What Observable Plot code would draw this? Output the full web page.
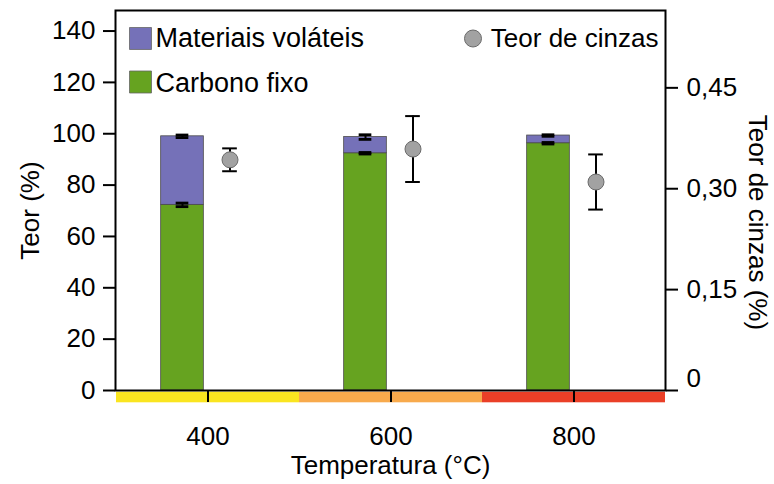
<!DOCTYPE html>
<html><head><meta charset="utf-8">
<script src="https://cdn.jsdelivr.net/npm/d3@7"></script>
<script src="https://cdn.jsdelivr.net/npm/@observablehq/plot@0.6"></script>
<style>
html,body{margin:0;padding:0;background:#fff;}
#chart svg{display:block;}
</style></head><body><div id="chart"></div>
<script>
const temperaturas = ["400", "600", "800"];
const carbonoFixo = [72.3, 92.4, 96.3];
const carbonoErro = [0.7, 0.3, 0.3];
const materiaisVolateis = [26.7, 6.3, 3.0];
const totalErro = [0.5, 0.9, 0.3];
const teorCinzas = [0.343, 0.359, 0.310];
const cinzasErro = [0.017, 0.049, 0.041];
const leftTicks = [0, 20, 40, 60, 80, 100, 120, 140];
const rightTicks = [0, 0.15, 0.30, 0.45];
const stripColors = ["#FAE520", "#F8AA4C", "#EA3F27"];
const seriesColors = ["#7571B8", "#66A320"];
const legendLabels = ["Materiais voláteis", "Carbono fixo", "Teor de cinzas"];
const yMax = 148;
const rightMax = 0.565;
const k = yMax / rightMax;

const stackRows = [];
temperaturas.forEach((t, i) => {
  stackRows.push({t, serie: "Carbono fixo", v: carbonoFixo[i]});
  stackRows.push({t, serie: "Materiais voláteis", v: materiaisVolateis[i]});
});
const rows = temperaturas.map((t, i) => ({
  t, c: carbonoFixo[i], ce: carbonoErro[i],
  tot: carbonoFixo[i] + materiaisVolateis[i], te: totalErro[i],
  a: teorCinzas[i] * k, ae: cinzasErro[i] * k
}));

const fmt = v => v === 0 ? "" : (v / k).toFixed(2).replace(".", ",");
const band = 550 / 3;
const barW = 43, barDx = -25.5, ashDx = 22;
const barInset = (band - barW) / 2;
const capB = (band - 13) / 2, capA = (band - 15) / 2;

const plot = Plot.plot({
  width: 774, height: 484,
  marginTop: 10, marginRight: 109, marginBottom: 94, marginLeft: 115,
  style: {fontFamily: "'Liberation Sans', Arial, sans-serif", fontSize: "26px", color: "#000", background: "#fff"},
  x: {type: "band", domain: temperaturas, padding: 0},
  y: {domain: [0, yMax]},
  color: {domain: ["Materiais voláteis", "Carbono fixo"], range: seriesColors},
  marks: [
    ...stripColors.map((c, i) => Plot.barY([temperaturas[i]], {x: d => d, y1: 0, y2: 0, fill: c, insetTop: 1.7, insetBottom: -12.3})),
    Plot.barY(stackRows, {x: "t", y: "v", fill: "serie", stroke: "#4a4a4a", strokeWidth: 0.8, insetLeft: barInset, insetRight: barInset, dx: barDx}),
    // error bars on stacked bars
    Plot.ruleX(rows, {x: "t", y1: d => d.c - d.ce, y2: d => d.c + d.ce, dx: barDx, strokeWidth: 2}),
    Plot.tickY(rows, {x: "t", y: d => d.c - d.ce, insetLeft: capB, insetRight: capB, dx: barDx, strokeWidth: 2.8}),
    Plot.tickY(rows, {x: "t", y: d => d.c + d.ce, insetLeft: capB, insetRight: capB, dx: barDx, strokeWidth: 2.8}),
    Plot.ruleX(rows, {x: "t", y1: d => d.tot - d.te, y2: d => d.tot + d.te, dx: barDx, strokeWidth: 2}),
    Plot.tickY(rows, {x: "t", y: d => d.tot - d.te, insetLeft: capB, insetRight: capB, dx: barDx, strokeWidth: 2.8}),
    Plot.tickY(rows, {x: "t", y: d => d.tot + d.te, insetLeft: capB, insetRight: capB, dx: barDx, strokeWidth: 2.8}),
    // ash content
    Plot.ruleX(rows, {x: "t", y1: d => d.a - d.ae, y2: d => d.a + d.ae, dx: ashDx, strokeWidth: 2}),
    Plot.tickY(rows, {x: "t", y: d => d.a - d.ae, insetLeft: capA, insetRight: capA, dx: ashDx, strokeWidth: 2}),
    Plot.tickY(rows, {x: "t", y: d => d.a + d.ae, insetLeft: capA, insetRight: capA, dx: ashDx, strokeWidth: 2}),
    Plot.dot(rows, {x: "t", y: "a", r: 8, fill: "#A2A2A2", stroke: "#6A6A6A", strokeWidth: 1, dx: ashDx}),
    // axes
    Plot.frame({strokeWidth: 2}),
    Plot.axisY({anchor: "left", ticks: leftTicks, tickSize: 12, tickPadding: 8, strokeWidth: 2, label: null}),
    Plot.axisY({anchor: "right", ticks: rightTicks.map(v => v * k), tickFormat: fmt, tickSize: 12, tickPadding: 9, strokeWidth: 2, label: null}),
    Plot.axisY({anchor: "right", ticks: [0], tickFormat: () => "0", tickSize: 0, tickPadding: 21, dy: -12, label: null}),
    Plot.axisX({anchor: "bottom", tickSize: 12, tickPadding: 24, strokeWidth: 2, label: null}),
    // axis titles
    Plot.text(["Temperatura (°C)"], {frameAnchor: "bottom", text: d => d, dy: 75, lineAnchor: "middle", textAnchor: "middle"}),
    Plot.text(["Teor (%)"], {frameAnchor: "left", text: d => d, rotate: -90, dx: -85, dy: 10, lineAnchor: "middle", textAnchor: "middle"}),
    Plot.text(["Teor de cinzas (%)"], {frameAnchor: "right", text: d => d, rotate: 90, dx: 92, dy: 22, lineAnchor: "middle", textAnchor: "middle"}),
    // legend
    Plot.dot([legendLabels[0]], {frameAnchor: "top-left", dx: 25, dy: 28, symbol: "square", r: 12.4, fill: seriesColors[0], stroke: "#666", strokeWidth: 0.8}),
    Plot.text([legendLabels[0]], {frameAnchor: "top-left", dx: 40, dy: 28, text: d => d, textAnchor: "start", lineAnchor: "middle", fontSize: 27}),
    Plot.dot([legendLabels[1]], {frameAnchor: "top-left", dx: 25, dy: 71.5, symbol: "square", r: 12.4, fill: seriesColors[1], stroke: "#666", strokeWidth: 0.8}),
    Plot.text([legendLabels[1]], {frameAnchor: "top-left", dx: 40, dy: 73, text: d => d, textAnchor: "start", lineAnchor: "middle", fontSize: 27}),
    Plot.dot([legendLabels[2]], {frameAnchor: "top-right", dx: -192.5, dy: 28, r: 8.5, fill: "#A2A2A2", stroke: "#6A6A6A", strokeWidth: 1}),
    Plot.text([legendLabels[2]], {frameAnchor: "top-right", dx: -7, dy: 28, text: d => d, textAnchor: "end", lineAnchor: "middle"})
  ]
});
document.getElementById("chart").appendChild(plot);
</script></body></html>
